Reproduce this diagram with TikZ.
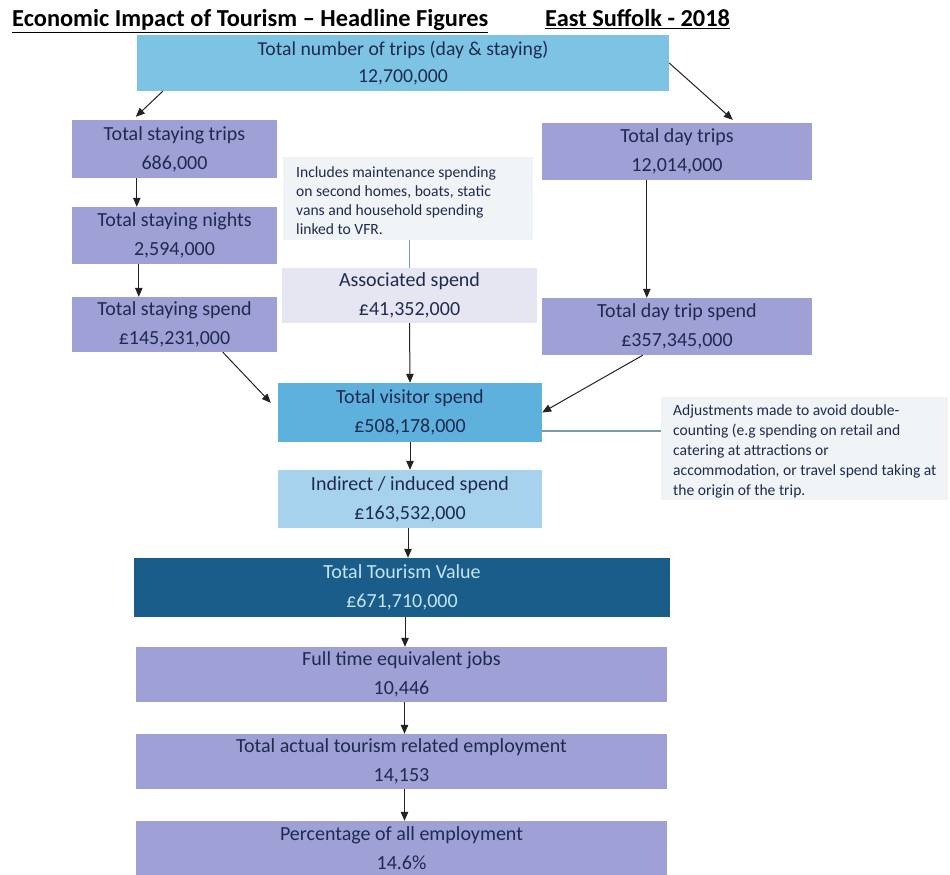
\documentclass[tikz,border=0pt]{standalone}
\usepackage{fontspec}
\setmainfont{Carlito}
\usetikzlibrary{arrows.meta,calc}
\definecolor{txt}{HTML}{1E2B4F}
\definecolor{topblue}{HTML}{7DC3E3}
\definecolor{lav}{HTML}{9EA0D6}
\definecolor{assoc}{HTML}{E5E6F2}
\definecolor{notebg}{HTML}{F1F4F6}
\definecolor{visblue}{HTML}{5FB1DD}
\definecolor{indblue}{HTML}{A7D2EE}
\definecolor{darkblue}{HTML}{1B5D8A}
\definecolor{ttvtext}{HTML}{C4E4F4}
\definecolor{arrowc}{HTML}{222222}
\definecolor{linkc}{HTML}{7C9AA8}
\begin{document}
\begin{tikzpicture}[x=1pt,y=-1pt,
  box/.style={inner sep=0pt, align=center, text=txt, font=\fontsize{20}{29}\selectfont},
  notebox/.style={fill=notebg, inner sep=0pt, anchor=north west},
  notetext/.style={inner sep=0pt, anchor=west, align=left, text=txt},
  arr/.style={-{Triangle[length=9pt,width=7.5pt]}, line width=1pt, draw=arrowc},
  link/.style={line width=1.3pt, draw=linkc}]
\useasboundingbox (0,0) rectangle (950,875);
% title
\node[anchor=base west, inner sep=0pt, text=black, font=\fontsize{24.4}{26}\selectfont\bfseries] (title) at (12,27) {\underline{Economic Impact of Tourism -- Headline Figures}};
\node[anchor=base west, inner sep=0pt, text=black, font=\fontsize{24.4}{26}\selectfont\bfseries] (place) at (545,27) {\underline{East Suffolk - 2018}};
% boxes
\node[box, fill=topblue, minimum width=532, minimum height=56, font=\fontsize{19.7}{27}\selectfont] (top) at (403,63) {Total number of trips (day \& staying)\\12,700,000};
\node[box, fill=lav, minimum width=205, minimum height=58] (stayTrips) at (174.5,149) {Total staying trips\\686,000};
\node[box, fill=lav, minimum width=205, minimum height=57] (stayNights) at (174.5,235.5) {Total staying nights\\2,594,000};
\node[box, fill=lav, minimum width=205, minimum height=55] (staySpend) at (174.5,324.5) {Total staying spend\\\pounds145,231,000};
\node[notebox, minimum width=250, minimum height=83] (note1) at (283,157) {};
\node[notetext, font=\fontsize{15.6}{19}\selectfont] (note1text) at ($(note1.west)+(13,1.5)$) {Includes maintenance spending\\on second homes, boats, static\\vans and household spending\\linked to VFR.};
\node[box, fill=assoc, minimum width=255, minimum height=55] (assoc) at (409.5,295.5) {Associated spend\\\pounds41,352,000};
\node[box, fill=lav, minimum width=270, minimum height=57] (dayTrips) at (677,151.5) {Total day trips\\12,014,000};
\node[box, fill=lav, minimum width=270, minimum height=57] (daySpend) at (677,326.5) {Total day trip spend\\\pounds357,345,000};
\node[box, fill=visblue, minimum width=264, minimum height=59] (visitor) at (410,412.5) {Total visitor spend\\\pounds508,178,000};
\node[notebox, minimum width=287, minimum height=103] (note2) at (661,397) {};
\node[notetext, font=\fontsize{15.6}{20}\selectfont] (note2text) at ($(note2.west)+(12,2.5)$) {Adjustments made to avoid double-\\counting (e.g spending on retail and\\catering at attractions or\\accommodation, or travel spend taking at\\the origin of the trip.};
\node[box, fill=indblue, minimum width=264, minimum height=58] (indirect) at (410,499) {Indirect / induced spend\\\pounds163,532,000};
\node[box, fill=darkblue, text=ttvtext, minimum width=536, minimum height=59] (ttv) at (402,587.5) {Total Tourism Value\\\pounds671,710,000};
\node[box, fill=lav, minimum width=531, minimum height=55] (fte) at (401.5,674.5) {Full time equivalent jobs\\10,446};
\node[box, fill=lav, minimum width=531, minimum height=55] (tae) at (401.5,761.5) {Total actual tourism related employment\\14,153};
\node[box, fill=lav, minimum width=531, minimum height=54] (pct) at (401.5,848) {Percentage of all employment\\14.6\%};
% connectors
\draw[arr] ($(top.south west)+(26,0)$) -- ($(stayTrips.north west)+(64,-3)$);
\draw[arr] (top.east) -- ($(dayTrips.north west)+(191,-3)$);
\draw[arr] ($(stayTrips.south west)+(65,0)$) -- ($(stayNights.north west)+(65,0)$);
\draw[arr] ($(stayNights.south west)+(67,0)$) -- ($(staySpend.north west)+(67,0)$);
\draw[arr] ($(dayTrips.south west)+(105,0)$) -- ($(daySpend.north west)+(105,0)$);
\draw[link, line width=0.8pt] (note1.south -| assoc.north) -- (assoc.north);
\draw[arr] (assoc.south) -- (visitor.north);
\draw[arr] ($(staySpend.south west)+(151,0)$) -- ($(visitor.north west)+(-7,20)$);
\draw[arr] ($(daySpend.south west)+(101,0)$) -- (visitor.east);
\draw[link] ($(visitor.east)+(0,18.5)$) -- ($(note2.west |- visitor.east)+(0,18.5)$);
\draw[arr] (visitor.south) -- (indirect.north);
\draw[arr] ($(indirect.south)+(-2,0)$) -- ($(indirect.south |- ttv.north)+(-2,0)$);
\draw[arr] ($(ttv.south)+(3,0)$) -- ($(ttv.south |- fte.north)+(3,0)$);
\draw[arr] ($(fte.south)+(3,0)$) -- ($(fte.south |- tae.north)+(3,0)$);
\draw[arr] ($(tae.south)+(3,0)$) -- ($(tae.south |- pct.north)+(3,0)$);
\end{tikzpicture}
\end{document}
